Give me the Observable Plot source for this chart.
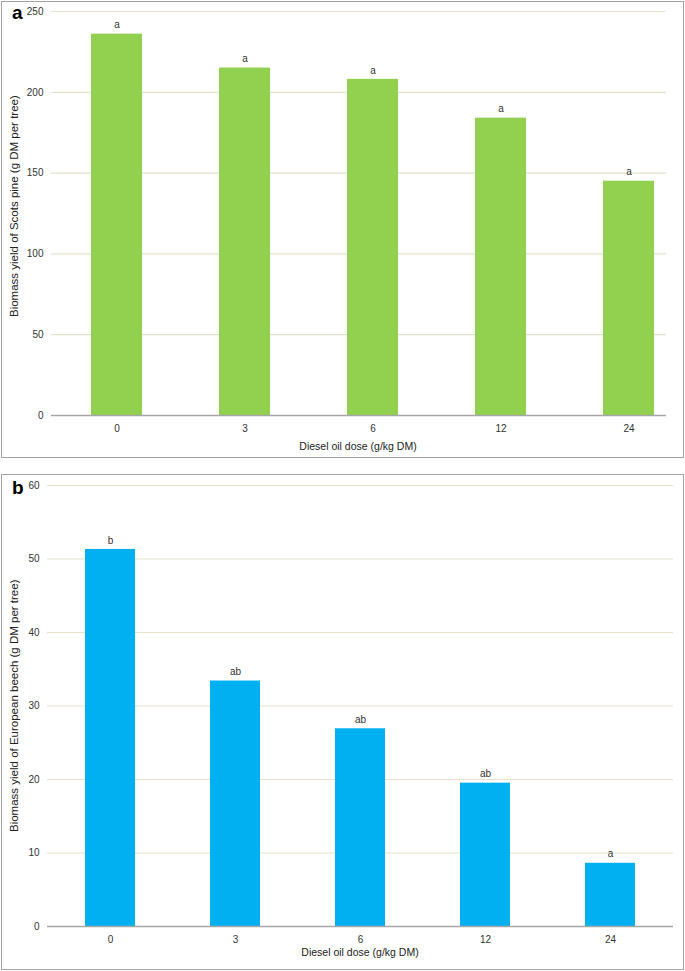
<!DOCTYPE html>
<html><head><meta charset="utf-8">
<script src="https://cdn.jsdelivr.net/npm/d3@7"></script>
<script src="https://cdn.jsdelivr.net/npm/@observablehq/plot@0.6"></script>
<style>
body{margin:0;background:#fff;font-family:"Liberation Sans",Arial,sans-serif;}
#wrap{position:relative;width:685px;height:971px;overflow:hidden;}
.box{position:absolute;border:1.5px solid #a3a3a3;box-sizing:border-box;}
.plot{position:absolute;left:0;}
#overlay{position:absolute;left:0;top:0;pointer-events:none;}
</style></head>
<body>
<div id="wrap">
  <div class="box" style="left:1px;top:1px;width:683px;height:457px"></div>
  <div class="box" style="left:1px;top:474px;width:683px;height:496px"></div>
  <div id="pa" class="plot" style="top:0px"></div>
  <div id="pb" class="plot" style="top:474px"></div>
  <svg id="overlay" width="685" height="971" font-family="Liberation Sans, Arial, sans-serif">
    <text x="12" y="19" font-size="19" font-weight="bold" fill="#000">a</text>
    <text x="12" y="494" font-size="19" font-weight="bold" fill="#000">b</text>
    <text id="xa" x="358" y="450" font-size="10.5" text-anchor="middle" fill="#222"></text>
    <text id="xb" x="360" y="956" font-size="10.5" text-anchor="middle" fill="#222"></text>
    <text id="ya" transform="translate(18,317) rotate(-90)" font-size="11.5" text-anchor="start" fill="#222"></text>
    <text id="yb" transform="translate(18,832) rotate(-90)" font-size="11.5" text-anchor="start" fill="#222"></text>
  </svg>
</div>
<script>
// ---- data ----
const doses = ["0", "3", "6", "12", "24"];
const pineYield = [236, 215, 208, 184, 145];
const pineLetters = ["a", "a", "a", "a", "a"];
const beechYield = [51.3, 33.4, 26.9, 19.5, 8.6];
const beechLetters = ["b", "ab", "ab", "ab", "a"];
const pineTicks = [0, 50, 100, 150, 200, 250];
const beechTicks = [0, 10, 20, 30, 40, 50, 60];
const xTitle = "Diesel oil dose (g/kg DM)";
const pineTitle = "Biomass yield of Scots pine (g DM per tree)";
const beechTitle = "Biomass yield of European beech (g DM per tree)";

const pineColor = "#92d050";
const beechColor = "#00b0f0";
const gridColor = "#e6e0cb";
const axisColor = "#a6a6a6";

function panel({values, letters, ticks, color, height, marginTop, marginBottom, marginLeft, marginRight, xRange}) {
  const table = doses.map((d, i) => ({dose: d, value: values[i], letter: letters[i]}));
  return Plot.plot({
    width: 685,
    height,
    marginTop, marginBottom, marginLeft, marginRight,
    style: {fontFamily: "Liberation Sans, Arial, sans-serif", fontSize: "10px", color: "#333", background: "transparent"},
    x: {domain: doses, type: "band", paddingInner: 0.6, paddingOuter: 0.3, ...(xRange ? {range: xRange} : {})},
    y: {domain: [0, d3.max(ticks)]},
    marks: [
      Plot.ruleY(ticks.filter(t => t > 0), {stroke: gridColor, strokeWidth: 1.2}),
      Plot.barY(table, {x: "dose", y: "value", fill: color}),
      Plot.ruleY([0], {stroke: axisColor, strokeWidth: 1.5}),
      Plot.text(table, {x: "dose", y: "value", text: "letter", dy: -9, fontSize: 10, fill: "#333"}),
      Plot.axisY({ticks, tickSize: 0, tickPadding: 8, label: null, fontSize: 10}),
      Plot.axisX({tickSize: 0, tickPadding: 9, label: null, fontSize: 10})
    ]
  });
}

document.getElementById("pa").appendChild(panel({
  values: pineYield, letters: pineLetters, ticks: pineTicks, color: pineColor,
  height: 460, marginTop: 11, marginBottom: 45, marginLeft: 51, marginRight: 19,
  xRange: [51, 694]
}));
document.getElementById("pb").appendChild(panel({
  values: beechYield, letters: beechLetters, ticks: beechTicks, color: beechColor,
  height: 497, marginTop: 11, marginBottom: 45, marginLeft: 47, marginRight: 12
}));
document.getElementById("xa").textContent = xTitle;
document.getElementById("xb").textContent = xTitle;
document.getElementById("ya").textContent = pineTitle;
document.getElementById("yb").textContent = beechTitle;
</script>
</body></html>
